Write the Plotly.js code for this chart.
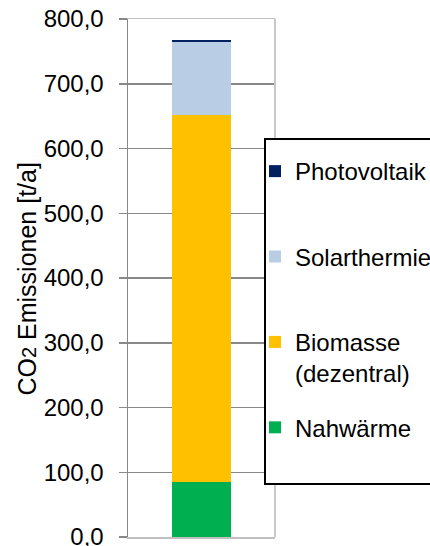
<!DOCTYPE html>
<html>
<head>
<meta charset="utf-8">
<script src="https://cdn.plot.ly/plotly-3.0.1.min.js"></script>
<style>
  html, body { margin: 0; padding: 0; background: #fff; }
  #chart { width: 430px; height: 546px; }
</style>
</head>
<body>
<div id="chart"></div>
<script>
const category = ['Gesamt'];
const seriesNames = ['Nahwärme', 'Biomasse (dezentral)', 'Solarthermie', 'Photovoltaik'];
const legendLabels = ['Nahwärme', 'Biomasse<br>(dezentral)', 'Solarthermie', 'Photovoltaik'];
const nahwaerme = [85];
const biomasse = [566];
const solarthermie = [114];
const photovoltaik = [3];
const seriesValues = [nahwaerme, biomasse, solarthermie, photovoltaik];
const seriesColors = ['#00b050', '#ffc000', '#b9cde5', '#002060'];
const tickVals = [0, 100, 200, 300, 400, 500, 600, 700, 800];
const tickLabels = ['0,0', '100,0', '200,0', '300,0', '400,0', '500,0', '600,0', '700,0', '800,0'];
const yTitle = 'CO<span style="font-size:20px">2</span> Emissionen [t/a]';

const FONT = '"Liberation Sans", Arial, sans-serif';

const traces = seriesNames.map((name, i) => ({
  type: 'bar',
  name: legendLabels[i] + (legendLabels[i].includes('<br>') ? '' : '<br>&nbsp;'),
  legendgroup: 'g' + i,
  legendrank: seriesNames.length - i,
  x: category,
  y: seriesValues[i],
  marker: { color: seriesColors[i], line: { width: 0 } },
  hoverinfo: 'skip'
}));

const layout = {
  width: 430,
  height: 546,
  margin: { l: 128, r: 155, t: 19, b: 9, pad: 0, autoexpand: false },
  paper_bgcolor: '#ffffff',
  plot_bgcolor: '#ffffff',
  barmode: 'stack',
  bargap: 0.605,
  font: { family: FONT, size: 24, color: '#000000' },
  showlegend: true,
  legend: {
    x: 0.864, xanchor: 'left',
    y: 0.749, yanchor: 'top',
    traceorder: 'grouped',
    tracegroupgap: 20,
    valign: 'top',
    bgcolor: 'rgba(0,0,0,0)',
    borderwidth: 0,
    font: { family: FONT, size: 24, color: '#000000' }
  },
  xaxis: {
    type: 'category',
    showticklabels: false,
    ticks: '',
    showgrid: false,
    zeroline: false,
    showline: true,
    mirror: true,
    linecolor: '#c0c0c0',
    linewidth: 1.5,
    fixedrange: true
  },
  yaxis: {
    range: [0, 800],
    tickvals: tickVals,
    ticktext: tickLabels,
    ticks: 'outside',
    ticklen: 8,
    tickwidth: 1.5,
    tickcolor: '#888888',
    ticklabelstandoff: 10,
    ticklabeloverflow: 'allow',
    showline: true,
    linecolor: '#888888',
    linewidth: 1.5,
    showgrid: true,
    gridcolor: '#888888',
    gridwidth: 1.5,
    zeroline: false,
    tickfont: { family: FONT, size: 24, color: '#000000' },
    automargin: false,
    fixedrange: true
  },
  annotations: [
    { text: yTitle, xref: 'paper', yref: 'paper', x: 0, y: 0.497,
      xanchor: 'center', yanchor: 'middle', xshift: -101, textangle: -90,
      showarrow: false, font: { family: FONT, size: 25, color: '#000000' } }
  ],
  shapes: [
    { type: 'line', xref: 'paper', yref: 'paper', x0: 1, x1: 1, y0: 0, y1: 1,
      line: { color: '#c8c8c8', width: 2 }, layer: 'above' },
    { type: 'rect', xref: 'paper', yref: 'paper',
      x0: (265 - 128) / 147, x1: (520 - 128) / 147,
      y0: (537 - 484) / 518, y1: (537 - 139) / 518,
      line: { color: '#000000', width: 2 }, fillcolor: '#ffffff', layer: 'above' }
  ]
};

Plotly.newPlot('chart', traces, layout, { displayModeBar: false, staticPlot: true });
</script>
</body>
</html>
